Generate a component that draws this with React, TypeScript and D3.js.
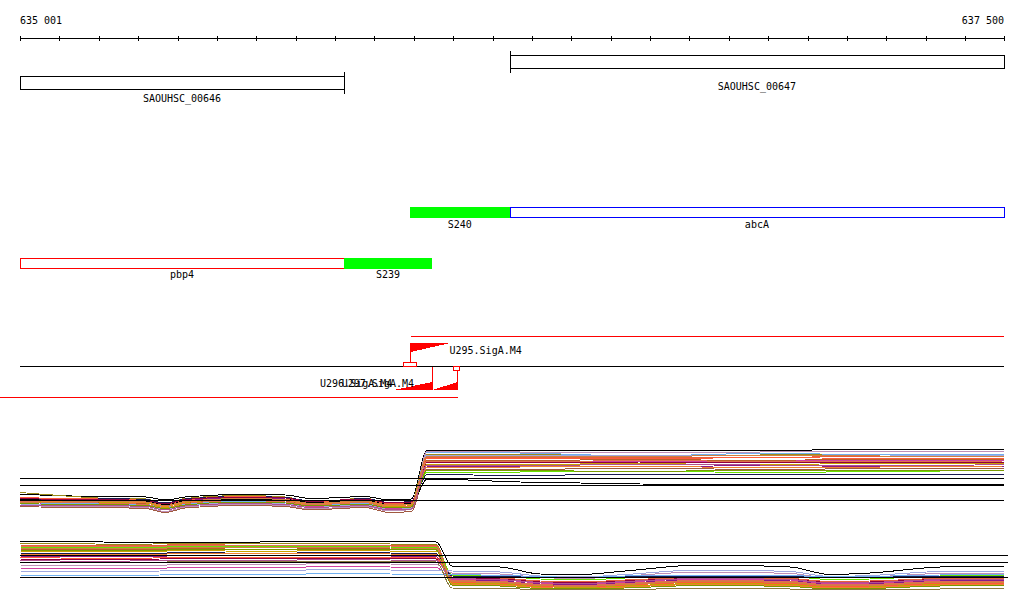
import * as d3 from "d3";

// genome window shown
const startBp = 635001;
const endBp = 637500;
const rulerLabels = ["635 001", "637 500"];

// annotated genes (top row) and transcription units (rows below)
const geneNames = ["SAOUHSC_00646", "SAOUHSC_00647"];
const geneStarts = [635001, 636245];
const geneEnds = [635824, 637500];
const geneStrands = [-1, 1];

const rnaNames = ["S240", "abcA"];
const rnaStarts = [635991, 636245];
const rnaEnds = [636245, 637500];
const rnaKinds = ["srna", "cds"];

const rna2Names = ["pbp4", "S239"];
const rna2Starts = [635001, 635824];
const rna2Ends = [635824, 636047];
const rna2Kinds = ["cds", "srna"];

// promoter predictions
const promoterNames = ["U295.SigA.M4", "U296.SigA.M4", "U297.SigA.M4"];
const promoterStarts = [635991, 635948, 636047];
const promoterEnds = [636093, 636047, 636110];
const promoterStrands = [1, -1, -1];

// expression tracks
const refLevels = [7.8, 6.5, 3.5];

const track1Knots = [
  635001, 635050, 635200, 635320, 635370, 635420, 635560, 635675, 635740, 635815,
  635875, 635940, 635995, 636035, 636270, 636575, 636880, 637185, 637500,
];
const track1Colors = [
  "#000000", "#9a8a1a", "#e8603c", "#b8602a", "#66e000", "#8a1a8a", "#d040a0", "#70b0f0",
  "#c090b8", "#1a1a50", "#ff5a3a", "#c8a000", "#a0a8e0", "#900040", "#a05a40", "#f08030",
  "#000000", "#e07050", "#7a9a00", "#b05090", "#d08040",
];
const track1Series = [
  [4.6, 4.4, 4.1, 4.0, 3.4, 4.0, 4.5, 4.4, 3.7, 3.9, 4.1, 3.4, 3.6, 13.4, 13.3, 13.2, 13.3, 13.5, 13.4],
  [4.9, 4.6, 3.8, 3.6, 2.6, 3.7, 4.3, 4.0, 3.1, 3.4, 3.8, 2.7, 3.0, 12.6, 12.5, 12.3, 12.4, 12.6, 12.5],
  [3.9, 3.7, 3.4, 3.1, 2.1, 3.2, 3.9, 3.6, 2.8, 3.1, 3.4, 2.3, 2.6, 12.0, 11.9, 11.8, 11.9, 12.1, 12.0],
  [3.4, 3.2, 2.9, 2.6, 1.5, 2.8, 3.5, 3.2, 2.3, 2.6, 2.9, 1.6, 1.9, 11.4, 11.3, 11.5, 11.3, 11.6, 11.5],
  [3.5, 3.4, 3.3, 3.1, 2.4, 3.2, 3.7, 3.4, 2.9, 3.1, 3.3, 2.5, 2.7, 9.0, 9.0, 9.2, 8.9, 9.1, 9.3],
  [3.7, 3.6, 3.4, 3.2, 2.5, 3.3, 3.9, 3.6, 3.0, 3.2, 3.4, 2.7, 2.9, 10.0, 10.2, 10.0, 10.3, 10.1, 10.2],
  [3.0, 2.8, 2.6, 2.4, 1.6, 2.5, 3.1, 2.8, 2.1, 2.4, 2.6, 1.6, 1.9, 11.0, 11.2, 11.0, 11.1, 11.4, 11.3],
  [2.9, 2.8, 2.7, 2.5, 2.0, 2.6, 3.2, 2.9, 2.3, 2.5, 2.8, 1.9, 2.2, 12.9, 12.8, 12.2, 12.7, 12.5, 12.6],
  [2.3, 2.2, 2.1, 1.9, 1.1, 2.0, 2.5, 2.3, 1.6, 1.9, 2.1, 1.2, 1.5, 13.1, 13.0, 12.9, 13.0, 13.1, 13.2],
  [3.6, 3.5, 3.7, 3.5, 2.8, 3.6, 4.1, 3.9, 3.2, 3.4, 3.7, 2.9, 3.1, 8.5, 8.3, 8.6, 8.4, 8.5, 8.6],
  [4.0, 3.8, 3.6, 3.3, 2.4, 3.4, 4.1, 3.8, 3.0, 3.3, 3.6, 2.6, 2.9, 11.7, 11.8, 11.6, 11.9, 11.7, 11.8],
  [3.2, 3.1, 3.0, 2.8, 1.8, 2.9, 3.6, 3.3, 2.5, 2.8, 3.0, 2.0, 2.3, 10.6, 10.5, 10.7, 10.4, 10.8, 10.6],
  [2.6, 2.5, 2.4, 2.2, 1.5, 2.3, 2.8, 2.6, 1.9, 2.2, 2.4, 1.5, 1.8, 12.3, 12.4, 12.3, 12.2, 12.4, 12.3],
  [3.8, 3.6, 3.5, 3.3, 2.6, 3.5, 4.0, 3.8, 3.1, 3.4, 3.6, 2.8, 3.0, 10.9, 10.8, 11.0, 10.8, 10.9, 11.0],
  [2.1, 2.0, 1.9, 1.7, 0.9, 1.8, 2.3, 2.1, 1.4, 1.7, 1.9, 0.9, 1.1, 9.6, 9.5, 9.8, 9.5, 9.7, 9.8],
  [3.3, 3.2, 3.1, 2.9, 2.1, 3.0, 3.6, 3.3, 2.6, 2.9, 3.1, 2.2, 2.5, 9.9, 10.0, 10.1, 9.9, 10.0, 10.2],
  [3.6, 3.4, 3.3, 3.1, 2.4, 3.2, 3.6, 3.5, 2.9, 3.1, 3.3, 2.5, 2.7, 7.6, 7.0, 6.6, 6.5, 6.6, 6.5],
  [3.1, 3.0, 2.8, 2.5, 1.7, 2.7, 3.3, 3.0, 2.4, 2.7, 2.9, 1.9, 2.1, 11.2, 11.0, 11.3, 11.1, 11.0, 11.2],
  [2.7, 2.6, 2.5, 2.3, 1.7, 2.4, 3.0, 2.8, 2.2, 2.4, 2.6, 1.8, 2.0, 9.4, 9.3, 9.1, 9.4, 9.2, 9.3],
  [2.4, 2.3, 2.3, 2.1, 1.4, 2.2, 2.7, 2.5, 1.9, 2.1, 2.3, 1.4, 1.6, 10.4, 10.3, 10.5, 10.4, 10.2, 10.5],
  [3.0, 2.9, 3.2, 3.0, 2.3, 3.1, 3.7, 3.5, 2.7, 3.0, 3.2, 2.4, 2.6, 12.2, 12.0, 12.1, 12.3, 12.2, 12.1],
];

const track2Knots = [
  635001, 635103, 635280, 635433, 635610, 635801, 635941, 636058, 636098, 636220,
  636322, 636423, 636538, 636728, 636957, 637058, 637160, 637338, 637500,
];
const track2Colors = [
  "#000000", "#9a8a1a", "#e8603c", "#66e000", "#b8602a", "#c8a000", "#1a1a50", "#8a1a8a",
  "#900040", "#ff5a3a", "#c090b8", "#d040a0", "#a0a8e0", "#70b0f0", "#8a7a40", "#f08030",
  "#e07050", "#7a9a00", "#b05090", "#d08040",
];
const track2Series = [
  [10.6, 10.6, 10.3, 10.4, 10.4, 10.5, 10.5, 10.4, 5.6, 5.4, 4.0, 3.9, 4.6, 5.8, 5.4, 3.9, 4.2, 5.4, 5.6],
  [10.0, 10.1, 9.9, 10.2, 10.0, 10.1, 10.0, 9.9, 3.0, 2.6, 1.8, 1.6, 1.9, 2.4, 2.2, 1.6, 1.7, 2.2, 2.3],
  [9.8, 9.7, 9.6, 9.9, 9.7, 9.8, 9.8, 9.7, 3.4, 3.2, 2.6, 2.4, 2.8, 3.3, 3.1, 2.5, 2.6, 3.1, 3.2],
  [9.4, 9.3, 9.2, 9.5, 9.4, 9.5, 9.4, 9.3, 3.8, 3.6, 3.0, 2.8, 3.2, 3.8, 3.5, 2.9, 3.0, 3.6, 3.7],
  [9.0, 8.9, 8.8, 9.1, 8.9, 9.1, 9.0, 8.9, 2.6, 2.4, 1.8, 1.6, 2.0, 2.6, 2.4, 1.7, 1.8, 2.4, 2.5],
  [8.6, 8.5, 8.4, 8.7, 8.5, 8.7, 8.6, 8.6, 2.2, 2.0, 1.5, 1.3, 1.6, 2.1, 1.9, 1.4, 1.5, 2.0, 2.1],
  [8.2, 8.1, 8.0, 8.3, 8.1, 8.3, 8.2, 8.1, 3.6, 3.5, 3.4, 3.3, 3.5, 3.6, 3.5, 3.4, 3.4, 3.6, 3.6],
  [7.6, 7.5, 7.4, 7.7, 7.6, 7.7, 7.6, 7.5, 2.8, 2.6, 2.0, 1.9, 2.2, 2.8, 2.6, 2.0, 2.1, 2.6, 2.7],
  [7.0, 6.9, 6.9, 7.1, 7.0, 7.2, 7.1, 7.0, 3.2, 3.0, 2.4, 2.2, 2.6, 3.1, 2.9, 2.3, 2.4, 2.9, 3.0],
  [7.3, 7.2, 7.1, 7.4, 7.3, 7.4, 7.3, 7.2, 2.4, 2.2, 1.6, 1.4, 1.8, 2.3, 2.1, 1.5, 1.6, 2.1, 2.2],
  [5.8, 5.7, 5.6, 5.9, 5.8, 6.1, 6.0, 5.9, 4.2, 4.0, 3.3, 3.1, 3.6, 4.4, 4.1, 3.2, 3.4, 4.1, 4.2],
  [5.2, 5.1, 5.0, 5.3, 5.2, 5.5, 5.4, 5.3, 2.9, 2.8, 2.2, 2.0, 2.4, 3.0, 2.8, 2.1, 2.2, 2.8, 2.9],
  [4.6, 4.5, 4.5, 4.7, 4.6, 4.9, 4.8, 4.7, 4.6, 4.4, 3.6, 3.4, 3.9, 4.8, 4.5, 3.5, 3.7, 4.5, 4.6],
  [3.8, 3.7, 3.7, 3.9, 3.8, 4.1, 4.0, 3.9, 3.9, 3.7, 3.5, 3.3, 3.6, 3.8, 3.7, 3.4, 3.5, 3.8, 3.9],
  [6.4, 6.3, 6.2, 6.5, 6.4, 6.6, 6.5, 6.4, 1.2, 1.1, 0.9, 0.8, 0.9, 1.1, 1.0, 0.8, 0.9, 1.0, 1.1],
  [8.0, 7.9, 7.8, 8.1, 8.0, 8.1, 8.0, 7.9, 2.0, 1.8, 1.3, 1.1, 1.4, 1.9, 1.7, 1.2, 1.3, 1.8, 1.9],
  [9.6, 9.5, 9.4, 9.7, 9.6, 9.7, 9.6, 9.5, 2.7, 2.5, 1.9, 1.7, 2.1, 2.7, 2.5, 1.8, 1.9, 2.5, 2.6],
  [8.8, 8.7, 8.6, 8.9, 8.8, 9.0, 8.9, 8.8, 1.8, 1.6, 1.1, 1.0, 1.2, 1.7, 1.5, 1.0, 1.1, 1.6, 1.7],
  [6.7, 6.6, 6.6, 6.8, 6.7, 6.9, 6.8, 6.7, 3.1, 2.9, 2.3, 2.1, 2.5, 3.1, 2.9, 2.2, 2.3, 2.9, 3.0],
  [9.2, 9.1, 9.0, 9.3, 9.2, 9.3, 9.2, 9.1, 2.5, 2.3, 1.7, 1.5, 1.9, 2.5, 2.3, 1.6, 1.7, 2.3, 2.4],
];

const FONT = "'DejaVu Sans Mono', monospace";
const RED = "#ff0000";
const GREEN = "#00ff00";

export default function App() {
  const width = 1024;
  const height = 611;

  const x = d3.scaleLinear().domain([startBp, endBp]).range([20, 1004]);
  const xs = (bp: number) => Math.round(x(bp)) + 0.5;

  const y1 = d3.scaleLinear().domain([0, 15.4]).range([517, 440]);
  const y2 = d3.scaleLinear().domain([0, 15.4]).range([594, 517]);

  const ticks = d3.range(0, 26).map((i) => Math.min(startBp + i * 100, endBp));

  const lineFor = (knots: number[], y: d3.ScaleLinear<number, number>) =>
    d3
      .line<number>()
      .x((_, i) => x(knots[i]))
      .y((d) => y(d))
      .curve(d3.curveMonotoneX);

  const line1 = lineFor(track1Knots, y1);
  const line2 = lineFor(track2Knots, y2);

  const text = (s: string, tx: number, ty: number, anchor = "start", fill = "#000") => (
    <text key={s} x={tx} y={ty} textAnchor={anchor} fontFamily={FONT} fontSize={10} fill={fill}>
      {s}
    </text>
  );

  // promoter geometry
  const pFwd = promoterStrands.indexOf(1);
  const pFwdX0 = xs(promoterStarts[pFwd]);
  const pFwdX1 = xs(promoterEnds[pFwd]);
  const revIdx = [1, 2];

  return (
    <div style={{ position: "absolute", left: 0, top: 0 }}>
      <svg width={width} height={height} style={{ display: "block", background: "#fff" }}>
        {/* ruler */}
        <g shapeRendering="crispEdges">
          <line x1={x(startBp)} x2={x(endBp) + 1} y1={38.5} y2={38.5} stroke="#000" />
          {ticks.map((t, i) => (
            <line key={i} x1={xs(t)} x2={xs(t)} y1={36} y2={41} stroke="#000" />
          ))}
        </g>
        {text(rulerLabels[0], 20, 24)}
        {text(rulerLabels[1], 1004, 24, "end")}

        {/* genes */}
        <g shapeRendering="crispEdges">
          {geneNames.map((g, i) => {
            const top = i === 0 ? 76.5 : 55.5;
            const x0 = xs(geneStarts[i]);
            const x1 = xs(geneEnds[i]);
            const barX = geneStrands[i] < 0 ? x1 : x0;
            return (
              <g key={g}>
                <rect x={x0} y={top} width={x1 - x0} height={13} fill="#fff" stroke="#000" />
                <line x1={barX} x2={barX} y1={top - 4.5} y2={top + 17.5} stroke="#000" />
              </g>
            );
          })}
        </g>
        {geneNames.map((g, i) =>
          text(g, (x(geneStarts[i]) + x(geneEnds[i])) / 2, i === 0 ? 101.5 : 90, "middle")
        )}

        {/* transcripts */}
        <g shapeRendering="crispEdges">
          {rnaNames.map((r, i) => {
            const x0 = xs(rnaStarts[i]);
            const x1 = xs(rnaEnds[i]);
            return rnaKinds[i] === "srna" ? (
              <rect key={r} x={x0 - 0.5} y={207} width={x1 - x0} height={11} fill={GREEN} />
            ) : (
              <rect key={r} x={x0} y={207.5} width={x1 - x0} height={10} fill="#fff" stroke="#0000ff" />
            );
          })}
          {rna2Names.map((r, i) => {
            const x0 = xs(rna2Starts[i]);
            const x1 = xs(rna2Ends[i]);
            return rna2Kinds[i] === "srna" ? (
              <rect key={r} x={x0 - 0.5} y={258} width={x1 - x0} height={11} fill={GREEN} />
            ) : (
              <rect key={r} x={x0} y={258.5} width={x1 - x0} height={10} fill="#fff" stroke={RED} />
            );
          })}
        </g>
        {rnaNames.map((r, i) => text(r, (x(rnaStarts[i]) + x(rnaEnds[i])) / 2, 228, "middle"))}
        {rna2Names.map((r, i) => text(r, (x(rna2Starts[i]) + x(rna2Ends[i])) / 2, 278, "middle"))}

        {/* promoters */}
        <g shapeRendering="crispEdges">
          <line x1={pFwdX0} x2={x(endBp)} y1={336.5} y2={336.5} stroke={RED} />
          <line x1={x(startBp)} x2={x(endBp)} y1={366.5} y2={366.5} stroke="#000" />
          <line x1={0} x2={xs(promoterEnds[2])} y1={397.5} y2={397.5} stroke={RED} />
          <line x1={pFwdX0} x2={pFwdX0} y1={343} y2={362} stroke={RED} />
          <rect x={pFwdX0 - 7} y={362.5} width={13} height={4} fill="none" stroke={RED} />
          {revIdx.map((i) => {
            const x1 = xs(promoterEnds[i]);
            return (
              <line key={i} x1={x1} x2={x1} y1={i === 2 ? 371 : 367} y2={390} stroke={RED} />
            );
          })}
          <rect x={xs(promoterEnds[2]) - 4} y={366.5} width={6} height={4} fill="none" stroke={RED} />
        </g>
        <path
          d={`M${pFwdX0},343L${pFwdX1},343L${pFwdX0},352Z`}
          fill={RED}
          shapeRendering="crispEdges"
        />
        {revIdx.map((i) => {
          const a = xs(promoterStarts[i]);
          const b = xs(promoterEnds[i]);
          return (
            <path key={i} d={`M${a},390L${b},390L${b},382Z`} fill={RED} shapeRendering="crispEdges" />
          );
        })}
        {text(promoterNames[0], pFwdX1 - 1, 354)}
        {text(promoterNames[1], 320, 387)}
        {text(promoterNames[2], 414, 387, "end")}

        {/* expression tracks */}
        <g fill="none" strokeWidth={1} shapeRendering="crispEdges">
          {track1Series.map((s, i) => (
            <path key={`a${i}`} d={line1(s) || ""} stroke={track1Colors[i]} />
          ))}
          {track2Series.map((s, i) => (
            <path key={`b${i}`} d={line2(s) || ""} stroke={track2Colors[i]} />
          ))}
          {refLevels.map((v, i) => (
            <line key={`r1${i}`} x1={20} x2={1004} y1={Math.round(y1(v)) + 0.5} y2={Math.round(y1(v)) + 0.5} stroke="#000" />
          ))}
          {refLevels.map((v, i) => (
            <line key={`r2${i}`} x1={20} x2={1008} y1={Math.round(y2(v)) + 0.5} y2={Math.round(y2(v)) + 0.5} stroke="#000" />
          ))}
        </g>
      </svg>
    </div>
  );
}
